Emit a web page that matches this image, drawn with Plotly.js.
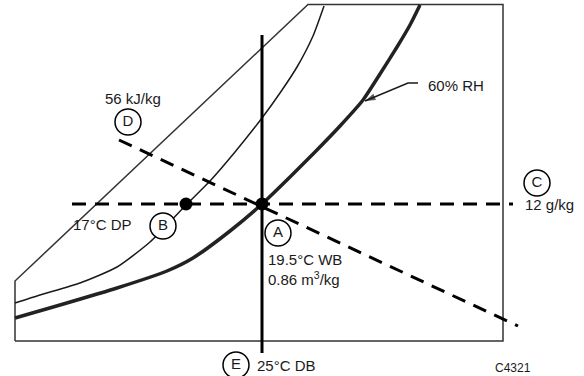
<!DOCTYPE html>
<html>
<head>
<meta charset="utf-8">
<script src="https://cdn.plot.ly/plotly-3.0.1.min.js"></script>
<style>html,body{margin:0;padding:0;background:#fff;}#chart{width:584px;height:376px;}</style>
</head>
<body>
<div id="chart"></div>
<script>
// Diagram coordinates (chart units)
var boxX = [15, 15, 308, 503, 503, 15];
var boxY = [341, 281, 4.5, 4.5, 341, 341];

var thinCurveX = [15, 40, 80, 117, 150, 186, 210, 235, 262, 280, 297, 313, 324];
var thinCurveY = [303, 295, 283, 267, 242, 205, 181, 152, 118, 93, 67, 36, 6];

var rhCurveX = [15, 60, 117, 167, 193, 230, 262, 290, 315, 340, 363, 380, 397, 410, 420];
var rhCurveY = [318, 305, 288, 271, 258, 231, 204, 177, 152, 126, 100, 74, 47, 25, 5];

var dbLineX = [262, 262];
var dbLineY = [35, 353];

var humLineX = [72, 513];
var humLineY = [204, 204];

var enthLineX = [119, 518];
var enthLineY = [140, 326];

var dotX = [186, 262];
var dotY = [204, 204];

var circleLabels = ['A', 'B', 'C', 'D', 'E'];
var circleX = [278, 163, 537, 128, 236];
var circleY = [233, 226, 183, 122, 365];

var arrowX = [418, 408, 365];
var arrowY = [83, 83, 101];

var textLabels = ['56 kJ/kg', '60% RH', '12 g/kg', '17°C DP', '19.5°C WB', '0.86 m<sup>3</sup>/kg', '25°C DB', 'C4321'];
var textX = [133, 426, 523, 71, 266, 266, 255, 513];
var textY = [98, 85, 204, 224, 259, 278, 365, 368];
var textAnchor = ['center', 'left', 'left', 'left', 'left', 'left', 'left', 'center'];
var textSize = [15, 15, 15, 15, 15, 15, 15, 12];

var ink = '#1a1a1a';
var dash = '14px,9px';
var font = 'Liberation Sans, Arial, sans-serif';

var traces = [
  {x: boxX, y: boxY, mode: 'lines', line: {color: '#333', width: 1.5}},
  {x: thinCurveX, y: thinCurveY, mode: 'lines', line: {color: ink, width: 1.5, shape: 'spline', smoothing: 0.6}},
  {x: rhCurveX, y: rhCurveY, mode: 'lines', line: {color: '#222', width: 3.5, shape: 'spline', smoothing: 0.6}},
  {x: dbLineX, y: dbLineY, mode: 'lines', line: {color: '#000', width: 3}},
  {x: humLineX, y: humLineY, mode: 'lines', line: {color: '#000', width: 3, dash: dash}},
  {x: enthLineX, y: enthLineY, mode: 'lines', line: {color: '#000', width: 3, dash: dash}},
  {x: arrowX, y: arrowY, mode: 'lines+markers', line: {color: ink, width: 1.5},
   marker: {symbol: 'arrow', angleref: 'previous', size: [0, 0, 11], color: ink, line: {width: 0}}},
  {x: dotX, y: dotY, mode: 'markers', marker: {color: '#000', size: 13}},
  {x: circleX, y: circleY, mode: 'markers+text', text: circleLabels, textposition: 'middle center',
   textfont: {family: font, size: 15, color: ink},
   marker: {color: '#fff', size: 26, line: {color: '#000', width: 1.5}}}
];

var annotations = [];
for (var i = 0; i < textLabels.length; i++) {
  annotations.push({x: textX[i], y: textY[i], xref: 'x', yref: 'y', text: textLabels[i], showarrow: false,
    xanchor: textAnchor[i], yanchor: 'middle',
    font: {family: font, size: textSize[i], color: ink}});
}

var layout = {
  width: 584, height: 376,
  margin: {l: 0, r: 0, t: 0, b: 0, pad: 0},
  paper_bgcolor: '#fff', plot_bgcolor: '#fff',
  showlegend: false,
  hovermode: false,
  xaxis: {range: [0, 584], visible: false, fixedrange: true},
  yaxis: {range: [376, 0], visible: false, fixedrange: true},
  annotations: annotations
};

Plotly.newPlot('chart', traces, layout, {displayModeBar: false, staticPlot: true});
</script>
</body>
</html>
